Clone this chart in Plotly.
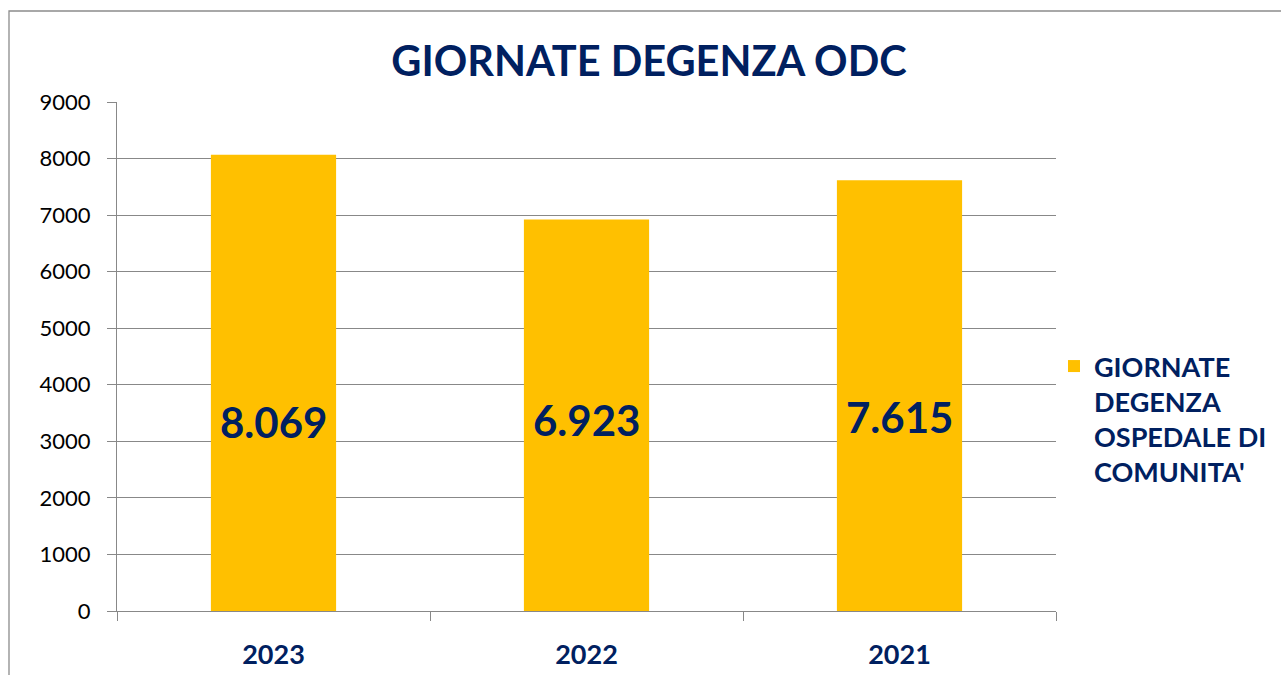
import plotly.graph_objects as go

years = ["2023", "2022", "2021"]
values = [8069, 6923, 7615]
value_labels = ["8.069", "6.923", "7.615"]
label_y = [3340, 3380, 3430]
series_name = "<b>GIORNATE<br>DEGENZA<br>OSPEDALE DI<br>COMUNITA'</b>"
title_text = "GIORNATE DEGENZA ODC"
y_ticks = list(range(0, 9001, 1000))

NAVY = "#002060"
GOLD = "#FFC000"
GRID = "#888888"
FONT = "Lato"

W, H = 1281, 675
ml, mr, mt, mb = 117, 225, 102, 64
pw, ph = W - ml - mr, H - mt - mb

fig = go.Figure()
fig.add_trace(go.Bar(
    x=years, y=values, name=series_name, marker=dict(color=GOLD, line=dict(width=0)),
    showlegend=True, hoverinfo="x+y",
))

for i, (lab, ly) in enumerate(zip(value_labels, label_y)):
    fig.add_annotation(x=i, y=ly, text=f"<b>{lab}</b>", showarrow=False,
                       font=dict(family=FONT, size=42, color=NAVY), xref="x", yref="y")


def px_to_paper_x(px):
    return (px - ml) / pw


def px_to_paper_y(py):
    return (H - mb - py) / ph


# outer chart border (partly cropped like the reference)
fig.add_shape(type="rect", xref="paper", yref="paper",
              x0=px_to_paper_x(9), x1=px_to_paper_x(1300),
              y0=px_to_paper_y(700), y1=px_to_paper_y(11),
              line=dict(color="#8c8c8c", width=1.3), fillcolor="rgba(0,0,0,0)", layer="below")

fig.update_layout(
    width=W, height=H,
    margin=dict(l=ml, r=mr, t=mt, b=mb, pad=0, autoexpand=False),
    paper_bgcolor="white", plot_bgcolor="white",
    bargap=0.6,
    title=dict(text=f"<b>{title_text}</b>", x=(392 + 906) / 2 / W, xanchor="center",
               y=1 - 61 / H, yanchor="middle",
               font=dict(family=FONT, size=41.5, color=NAVY)),
    legend=dict(x=px_to_paper_x(1054), xanchor="left", y=px_to_paper_y(342), yanchor="top",
                font=dict(family=FONT, size=27, color=NAVY), bgcolor="rgba(0,0,0,0)",
                itemsizing="constant", itemwidth=30, tracegroupgap=0, valign="top"),
    showlegend=True,
)

fig.update_xaxes(
    type="category", range=[-0.5, 2.5], automargin=False,
    showline=True, linecolor=GRID, linewidth=1,
    ticks="outside", ticklen=9, tickcolor=GRID, tickwidth=1, tickson="boundaries",
    tickfont=dict(family=FONT, size=27, color=NAVY), ticklabelstandoff=20, tickangle=0,
    tickprefix="<b>", ticksuffix="</b>", showgrid=False, zeroline=False,
)
fig.update_yaxes(
    range=[0, 9000], tickvals=y_ticks, ticktext=[str(v) for v in y_ticks], automargin=False,
    showline=True, linecolor=GRID, linewidth=1,
    ticks="outside", ticklen=9, tickcolor=GRID, tickwidth=1,
    showgrid=True, gridcolor=GRID, gridwidth=1, zeroline=False,
    tickfont=dict(family=FONT, size=22, color="#000000"), ticklabelstandoff=12,
)

fig.write_html("out.html", post_script="document.body.style.margin='0';",
               config={"displayModeBar": False})
